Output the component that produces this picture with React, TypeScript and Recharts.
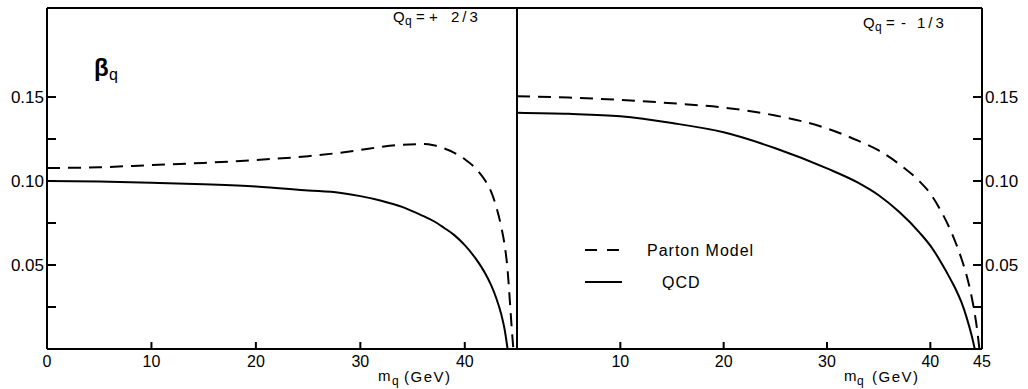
import { LineChart, Line, XAxis, YAxis, ReferenceLine, Legend } from 'recharts';

// left panel: Q_q = +2/3
const leftMass = [0, 5, 10, 15, 20, 25, 28, 30, 32, 34, 36, 37, 38, 39, 40, 41, 42, 42.5, 43, 43.5, 43.8, 44.1, 44.3, 44.5, 44.65];
const leftParton = [0.1077, 0.1082, 0.1095, 0.1108, 0.1125, 0.1148, 0.1168, 0.1185, 0.1203, 0.1216, 0.122, 0.1213, 0.1195, 0.1168, 0.113, 0.1078, 0.0998, 0.094, 0.085, 0.0725, 0.0625, 0.047, 0.03, 0.012, 0];
const leftQcd = [0.1, 0.0997, 0.099, 0.0981, 0.0968, 0.0944, 0.093, 0.091, 0.0883, 0.0846, 0.0792, 0.0762, 0.0722, 0.0678, 0.0618, 0.0542, 0.0445, 0.0383, 0.0305, 0.0205, 0.0122, 0, null, null, null];

// right panel: Q_q = -1/3
const rightMass = [0, 5, 10, 15, 20, 25, 30, 33, 35, 37, 39, 40, 41, 42, 42.5, 43, 43.5, 44, 44.3, 44.55, 44.75];
const rightParton = [0.1505, 0.1497, 0.1483, 0.1463, 0.1437, 0.139, 0.1313, 0.124, 0.1182, 0.11, 0.0995, 0.0925, 0.0825, 0.07, 0.0625, 0.054, 0.044, 0.031, 0.021, 0.0105, 0];
const rightQcd = [0.1407, 0.14, 0.1385, 0.1345, 0.129, 0.1195, 0.1075, 0.099, 0.0915, 0.0815, 0.069, 0.0615, 0.052, 0.041, 0.035, 0.028, 0.019, 0.008, 0, null, null];

const yTicks = [0.025, 0.05, 0.075, 0.1, 0.125, 0.15];
const yTickLabels: Record<string, string> = { '0.05': '0.05', '0.1': '0.10', '0.15': '0.15' };
const leftXTicks = [0, 10, 20, 30, 40];
const rightXTicks = [10, 20, 30, 40, 45];

const Y_MAX = 0.203;
const X_MAX = 45;
const FONT = "'Liberation Sans', Arial, sans-serif";
const AXIS = { stroke: '#000', strokeWidth: 2 };

const leftData = leftMass.map((m, i) => ({ m, parton: leftParton[i], qcd: leftQcd[i] }));
const rightData = rightMass.map((m, i) => ({ m, parton: rightParton[i], qcd: rightQcd[i] }));

const YLabel = ({ x, y, payload, side }: any) => {
  const label = yTickLabels[String(payload.value)];
  if (!label) return <g />;
  return (
    <text
      x={x}
      y={y + 6}
      textAnchor={side === 'left' ? 'end' : 'start'}
      fontSize={17}
      fontFamily={FONT}
      fill="#000"
    >
      {label}
    </text>
  );
};

const XLabel = ({ x, y, payload }: any) => (
  <text x={x} y={y + 18} textAnchor="middle" fontSize={16} fontFamily={FONT} fill="#000">
    {payload.value}
  </text>
);

const renderLegend = ({ payload }: any) => (
  <svg width={200} height={50}>
    {(payload || []).map((entry: any, i: number) => {
      const cy = 10 + i * 32;
      const dashed = entry.payload && entry.payload.strokeDasharray;
      return (
        <g key={entry.value}>
          <line x1={0} y1={cy} x2={37} y2={cy} stroke="#000" strokeWidth={2} strokeDasharray={dashed ? '12 10' : undefined} />
          <text x={i === 0 ? 62 : 77} y={cy + 6} fontSize={16} fontFamily={FONT} letterSpacing={1} fill="#000">
            {entry.value}
          </text>
        </g>
      );
    })}
  </svg>
);

const Panel = ({ data, side, xTicks, legend }: any) => {
  const isLeft = side === 'left';
  return (
    <LineChart
      width={isLeft ? 530 : 528}
      height={389}
      data={data}
      margin={isLeft ? { top: 8, right: 13, bottom: 0, left: 0 } : { top: 8, right: 0, bottom: 0, left: 17 }}
    >
      <XAxis
        type="number"
        dataKey="m"
        domain={[0, X_MAX]}
        ticks={xTicks}
        interval={0}
        height={40}
        tickSize={-7}
        tickMargin={7}
        tickLine={AXIS}
        axisLine={AXIS}
        tick={<XLabel />}
      />
      <YAxis
        type="number"
        orientation={side}
        domain={[0, Y_MAX]}
        ticks={yTicks}
        interval={0}
        width={isLeft ? 47 : 46}
        tickSize={-9}
        tickMargin={12}
        tickLine={AXIS}
        axisLine={AXIS}
        tick={<YLabel side={side} />}
      />
      <ReferenceLine y={Y_MAX} stroke="#000" strokeWidth={2} />
      <ReferenceLine x={isLeft ? X_MAX : 0} stroke="#000" strokeWidth={2} />
      <Line
        type="monotone"
        dataKey="parton"
        name="Parton Model"
        stroke="#000"
        strokeWidth={2}
        strokeDasharray="13 8"
        dot={false}
        isAnimationActive={false}
      />
      <Line
        type="monotone"
        dataKey="qcd"
        name="QCD"
        stroke="#000"
        strokeWidth={2}
        dot={false}
        isAnimationActive={false}
      />
      {legend && (
        <Legend
          layout="vertical"
          align="center"
          verticalAlign="middle"
          content={renderLegend}
          wrapperStyle={{ left: 85, top: 240, width: 200, height: 50 }}
        />
      )}
    </LineChart>
  );
};

export default function App() {
  return (
    <div style={{ position: 'absolute', left: 0, top: 0, width: 1028, height: 389, background: '#fff', fontFamily: FONT }}>
      <div style={{ position: 'absolute', left: 0, top: 0 }}>
        <Panel data={leftData} side="left" xTicks={leftXTicks} />
      </div>
      <div style={{ position: 'absolute', left: 500, top: 0 }}>
        <Panel data={rightData} side="right" xTicks={rightXTicks} legend />
      </div>

      {/* annotations */}
      <svg width={1028} height={389} style={{ position: 'absolute', left: 0, top: 0, pointerEvents: 'none' }}>
        <g fontFamily={FONT} fill="#000">
          <text x={94} y={76} fontSize={24} fontWeight="bold">β</text>
          <text x={109} y={80} fontSize={16}>q</text>

          <text x={393} y={22} fontSize={15}>Q</text>
          <text x={405} y={25} fontSize={12}>q</text>
          <text x={416} y={22} fontSize={15}>=</text>
          <text x={429} y={22} fontSize={15}>+</text>
          <text x={451} y={22} fontSize={15} letterSpacing={3}>2/3</text>

          <text x={863} y={28} fontSize={15}>Q</text>
          <text x={875} y={31} fontSize={12}>q</text>
          <text x={886} y={28} fontSize={15}>=</text>
          <text x={901} y={28} fontSize={15}>-</text>
          <text x={917} y={28} fontSize={15} letterSpacing={3}>1/3</text>

          <text x={378} y={381} fontSize={15}>m</text>
          <text x={392} y={385} fontSize={12}>q</text>
          <text x={404} y={382} fontSize={15} letterSpacing={1.5}>(GeV)</text>

          <text x={844} y={381} fontSize={15}>m</text>
          <text x={857} y={385} fontSize={12}>q</text>
          <text x={872} y={382} fontSize={15} letterSpacing={1.5}>(GeV)</text>
        </g>
      </svg>
    </div>
  );
}
